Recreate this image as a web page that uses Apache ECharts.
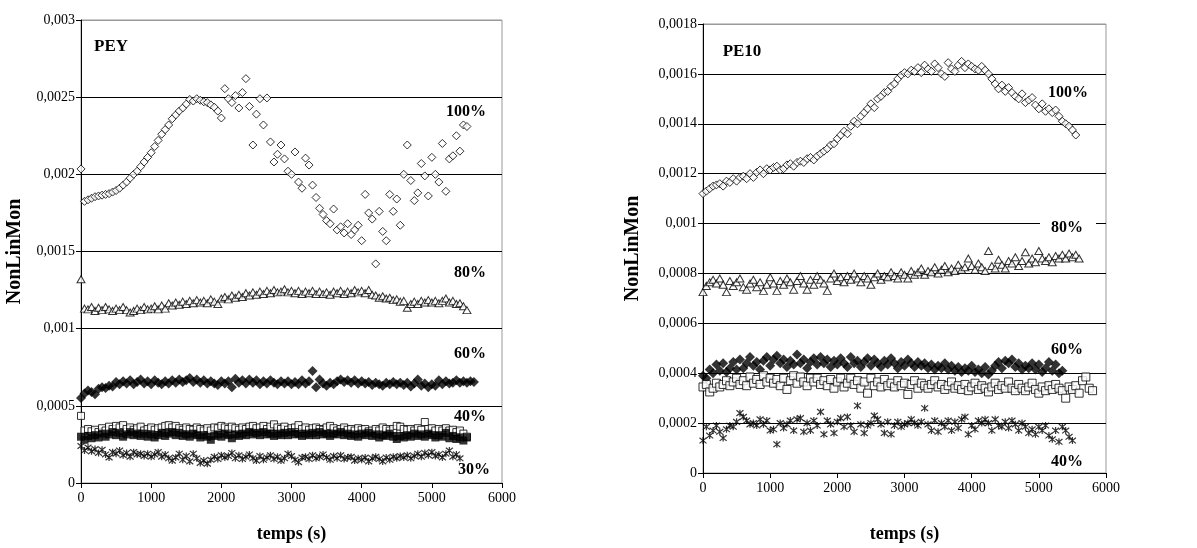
<!DOCTYPE html>
<html><head><meta charset="utf-8">
<script src="https://cdn.jsdelivr.net/npm/echarts@6/dist/echarts.min.js"></script>
<style>html,body{margin:0;padding:0;background:#fff}#c{width:1197px;height:548px}</style>
</head><body><div id="c"></div><script>
// time stamps (s)
const T = [0,50,100,150,200,250,300,350,400,450,500,550,600,650,700,750,800,850,900,950,
1000,1050,1100,1150,1200,1250,1300,1350,1400,1450,1500,1550,1600,1650,1700,1750,1800,1850,1900,1950,
2000,2050,2100,2150,2200,2250,2300,2350,2400,2450,2500,2550,2600,2650,2700,2750,2800,2850,2900,2950,
3000,3050,3100,3150,3200,3250,3300,3350,3400,3450,3500,3550,3600,3650,3700,3750,3800,3850,3900,3950,
4000,4050,4100,4150,4200,4250,4300,4350,4400,4450,4500,4550,4600,4650,4700,4750,4800,4850,4900,4950,
5000,5050,5100,5150,5200,5250,5300,5350,5400,5450,5500,5550,5600,5650,5700,5750,5800];
// values in units of 1e-5
const UNIT = 1e-5;
const PEY_100 = [203.5,182.5,183.5,184.5,185.5,186,186.5,187,187.5,188.5,
189.5,191,193,195,197.5,200,202,205,208,211,
214,218,222,226,229,232,236,238.5,241,243,
245.5,248.5,247.5,249,248,247,246.5,245,243.5,241,
236.5,255.5,249,246.5,251,243,253,262,244,219,
239,249,232,249.5,221,208,213,219,210,202,
200,214.5,195,191,210.5,206,193,185,178,174,
170,168,177.5,164,166,162,168,161,164,167,
157,187,175,171,142,176,163,157,187,176,
184,167,200,219,196,183,188,207,199,186,
211,200,195,220,189,210,212,225,215,232,
231];
const PEY_80 = [132,113,112.5,114,111.5,113.5,112,114,112.5,111.5,
113,112,114,112,110.5,111.5,113,112,114,112.5,
113,114.5,112.5,115,113,116.5,115,117,115.5,117.5,
116,118,116.5,118.5,117,118,116.5,119,117.5,116,
119.5,120.5,119,121.5,120,122,120.5,123,121.5,123.5,
122,124,122.5,124.5,123,125,123.5,124,125.5,123.5,
124.5,123,124.5,122.5,124,123,124.5,122.5,124,122.5,
123.5,122,124,123,124.5,122.5,124,123,125,123.5,
124.5,123,125,122,121.5,120,121,119.5,120,118.5,
119,117.5,118,113.5,116,117.5,116,118,117,118.5,
117,118,116.5,118,119.5,117,118,116,116.5,114.5,
112];
const PEY_60 = [55,58,60,59,57.5,61,62,61.5,63,62.5,
65.5,64,66,64.5,66.5,64,65.5,67,64.5,66,
64,66.5,65,64,66,64.5,66.5,65,67,65.5,
66.5,68,65.5,67,65,66.5,64.5,66,64.5,63.5,
66,64.5,66,62,67.5,65,66.5,64.5,67,65,
66.5,64,66,64.5,66.5,65,64,66,64.5,66,
64,65.5,64,66.5,64.5,66,72.5,62,67,64.5,
63,65,64,66,67,65.5,66.5,65,66.5,64.5,
66,64.5,65.5,63.5,65,64,63,65,64,65.5,
64,65,63.5,65,62.5,64.5,67,63,64.5,62,
64,63,66.5,64,66,64.5,65,66.5,65,66,
65,66,65.5];
const PEY_40_open = [43.5,34,35,33.5,34.5,33,35.5,34,36.5,35,
37,36,37.5,35,36,34.5,35.5,36.5,34,35,
36,34.5,35.5,36,37,37.5,36,37,35.5,34.5,
36,35,34.5,36,35,34,35.5,34,36,35.5,
37,36,35,36.5,35.5,34.5,36,35,36.5,37,
35.5,36,37,35,36.5,38,36,35,36.5,34.5,
35.5,36,37.5,35,36,34.5,35.5,36,35,34.5,
36,37,35.5,34,35,36,34.5,35,34,35.5,
34.5,35,33.5,34,35,34,36,35,34,35,
37,36.5,35,34.5,35,34,35.5,34.5,39.5,35,
35.5,34,35,34,35.5,34,34.5,33,34,32,
30];
const PEY_40_fill = [30,28,30.5,29,31,29.5,32,30,31.5,33,
31,32.5,30,31.5,33,31,32,30.5,32,30,
31.5,29.5,31,32.5,30.5,32,33,31,32.5,30.5,
31.5,30,32,31,29.5,31,30,28,30.5,31.5,
30,32,31,29,31.5,30.5,32,31,33,31.5,
32.5,31,33,31.5,32,30.5,32,31,32.5,31,
33,31.5,32,30.5,32,31,32.5,31,33,31.5,
32,30.5,32,31.5,33,31,32,30.5,31.5,30,
32,31,32.5,30.5,31.5,29.5,31,30.5,32,30,
28.5,30.5,29.5,31,30,32,30.5,31.5,30,32,
31,29.5,31,30,32.5,29,30.5,28.5,29.5,27.5,
29.5];
const PEY_30 = [24,21,23,20.5,22,19.5,21.5,18.5,16.5,20,
19,21,18,19.5,17,20,18.5,19,17.5,19,
17,18.5,20,17,18.5,16,14.5,16.5,19,15,
17.5,14,19,16,13,14.5,12.5,15,17,15.5,
18,16.5,17.5,19.5,16,18,15.5,17,18.5,16,
14.5,17.5,15,16.5,18,15.5,17,14.5,16,19,
17.5,15,13.5,16.5,17,15.5,18,16,17,18.5,
16.5,15,17.5,16,18,15.5,16.5,17,14.5,16,
15,16.5,14,16,17,15.5,14,16.5,15,17,
16,17.5,16.5,18,16,17.5,19,17,19.5,18,
20,17.5,18.5,16.5,19,21,17,18.5,16];
const PE10_100 = [112,113,114,115,115.5,116,115,117,116.5,118,
117,118.5,119,118,120,118.5,120.5,121.5,120,122,
121.5,122.5,123,121.5,122,123.5,124,123,124.5,125,
124.5,126,126.5,125.5,127,128,129,130,131.5,132,
134,135.5,137,136,139,141,140,143,144.5,146,
148,146.5,150,151,152.5,153,155,156,158,159.5,
160.5,160,161.5,161,162.5,160.5,163.5,162,161,164,
162.5,160,159,164.5,162,161,163.5,165,162.5,164,
163,162,161.5,163,161.5,160,158,156,154,155.5,
153,154.5,152.5,151,150,152,148.5,149.5,150.5,147.5,
146,148,145,146,144.5,145.5,143,141,140,139,
137.5,135.5];
const PE10_80 = [72.5,75,76.5,77.5,76,78,75.5,72.5,77,75,
76.5,78,74.5,73.5,76,77.5,74.5,76.5,73,75.5,
78.5,76,73,77,75.5,78,76.5,73.5,77,79,
76,73.5,77.5,75.5,79,77.5,76,73,78,80,
77,78.5,76.5,79,77.5,80,78,76.5,79,78,
75.5,78.5,80,77.5,79,78.5,80.5,79,78,80.5,
79.5,78,81,79.5,80.5,82,79.5,81,80.5,82.5,
80,81.5,83,80.5,82,81,83.5,81.5,82.5,86,
83,81.5,84,82.5,81,89,83,82,85.5,83.5,
82,85,84,86.5,83,85,88.5,84,86,84.5,
89,86,85,86.5,84.5,87,86,87.5,86,88,
86.5,87.5,86];
const PE10_60 = [39,38,41.5,40,43.5,41,44,40.5,42,44.5,
41.5,45.5,42,44,46.5,43,44.5,41.5,45,46.5,
43,45.5,47,44,45.5,42.5,45,43.5,47.5,44,
45.5,42,44.5,46,43.5,46.5,44,45.5,42.5,45,
43.5,46,44,42.5,46.5,44,45,42.5,44.5,46,
43,45.5,44,42.5,45,43.5,46,44,42,44.5,
43,45.5,44,42.5,44.5,43,44,42,43.5,41.5,
43,42,44,41.5,43,41,42.5,40.5,42,41,
43,40.5,41.5,40,42.5,39.5,41,43,44.5,42,
45,44,45.5,42.5,44,41.5,43,42,44,41.5,
43.5,40.5,42,44.5,41,43.5,40,41];
const PE10_sq = [34.5,35.5,32.5,34,36,34.5,35.5,37,35,36.5,
38,35.5,37,35,38.5,36,37.5,35.5,39,36.5,
38,36,37.5,35,38,33.5,37,39,36,38.5,
36.5,35,38,36.5,38,35.5,37,35,37.5,34,
36.5,38,34.5,36,38,35.5,37,34,36.5,32,
38,35,36.5,34.5,37.5,35,36,34.5,37,35,
36,31.5,35.5,37,34,36,35,34,35.5,37,
34.5,35.5,33.5,35,36.5,34,35,33.5,35.5,33,
34.5,36,33.5,35,34,32.5,34.5,36,33.5,35,
34,36.5,34,33,35.5,34,33,34.5,36,33.5,
32,34.5,33,35,33.5,35.5,34,33,30,34.5,
33.5,35,32,37,38.5,34,33];
const PE10_40 = [13,18.5,15,17,19,16.5,14,17.5,19,18.5,
20.5,24,22.5,21,19.5,20,19,21.5,19.5,21,
17,17.5,11.5,20,18,19.5,21,17,21.5,22,
16.5,20,17,21,19,24.5,15.5,21,19.5,16,
20.5,22,18.5,22.5,19,16.5,27,19.5,16,19,
20,23,21.5,19.5,16,20.5,15.5,19,20.5,18.5,
19.5,20,21.5,20,19,20.5,26,19.5,17,21,
16.5,20,18.5,21,17,20.5,18,21.5,22.5,15.5,
19,17.5,21,20,21.5,20,17,21.5,19,18.5,
20.5,18,21,19.5,17,20,18.5,16,17.5,15.5,
18.5,17,19,15,13.5,17,12.5,18.5,17,14.5,
13];
const X_TICKS = {min:0, max:6000, interval:1000};
const LEFT_Y = {min:0, max:0.003, interval:0.0005};
const RIGHT_Y = {min:0, max:0.0018, interval:0.0002};
const LEFT_LABELS = ['100%','80%','60%','40%','30%'];
const RIGHT_LABELS = ['100%','80%','60%','40%'];

const pts = arr => arr.map((v,i) => [T[i], v*UNIT]);
const FONT = '"Liberation Serif","Times New Roman",serif';
const ASTER = 'path://M1,1L9,9M9,1L1,9M5,0L5,10';
const OPEN = {color:'#fff', borderColor:'#000', borderWidth:1};
const FILL = {color:'#000'};
const STAR = {color:'none', borderColor:'#000', borderWidth:1.2};
function sc(name, arr, idx, symbol, size, style){
  return {type:'scatter', name, xAxisIndex:idx, yAxisIndex:idx, data:pts(arr),
    symbol, symbolSize:size, itemStyle:style, silent:true, animation:false};
}
const fmt = v => v===0 ? '0' : String(+v.toFixed(6)).replace('.', ',');
function xAx(gi, gap){
  return {type:'value', gridIndex:gi, ...X_TICKS, name:'temps (s)', nameLocation:'middle', nameGap:gap,
    nameTextStyle:{fontFamily:FONT, fontWeight:'bold', fontSize:18, color:'#000'},
    axisLine:{onZero:false, lineStyle:{color:'#000', width:1}},
    axisTick:{length:5, lineStyle:{color:'#000'}},
    axisLabel:{fontFamily:FONT, fontSize:14, color:'#000', margin:8, formatter: v => String(v)},
    splitLine:{show:false}};
}
function yAx(gi, cfg, gap, n){
  const cols = []; for (let i=0;i<n;i++) cols.push(i===n-1 ? '#999' : '#000');
  return {type:'value', gridIndex:gi, ...cfg, name:'NonLinMon', nameLocation:'middle', nameGap:gap, nameRotate:90,
    nameTextStyle:{fontFamily:FONT, fontWeight:'bold', fontSize:20, color:'#000'},
    axisLine:{show:true, onZero:false, lineStyle:{color:'#000', width:1}},
    axisTick:{show:true, length:5, lineStyle:{color:'#000'}},
    axisLabel:{fontFamily:FONT, fontSize:14, color:'#000', margin:6, formatter:fmt},
    splitLine:{show:true, lineStyle:{color:cols, width:1}}};
}
function txt(s, x, y, size, extra){
  return Object.assign({type:'text', x, y, z:100, silent:true,
    style:{text:s, align:'center', verticalAlign:'middle', font:'bold '+size+'px '+FONT, fill:'#000'}}, extra||{});
}
const chart = echarts.init(document.getElementById('c'), null, {renderer:'canvas'});
chart.setOption({
  animation:false,
  backgroundColor:'#fff',
  grid:[
    {left:81, top:20, width:421, height:466, show:true, borderColor:'#999', borderWidth:1},
    {left:703, top:24, width:403, height:452, show:true, borderColor:'#999', borderWidth:1}
  ],
  xAxis:[xAx(0, 42), xAx(1, 52)],
  yAxis:[yAx(0, LEFT_Y, 56, 7), yAx(1, RIGHT_Y, 60, 10)],
  series:[
    sc('PEY 100%', PEY_100, 0, 'diamond', 8, OPEN),
    sc('PEY 80%', PEY_80, 0, 'triangle', [8,7], OPEN),
    sc('PEY 60%', PEY_60, 0, 'diamond', 10, FILL),
    sc('PEY 40% open', PEY_40_open, 0, 'rect', 7, OPEN),
    sc('PEY 40% fill', PEY_40_fill, 0, 'rect', 8, FILL),
    sc('PEY 30%', PEY_30, 0, ASTER, 7, STAR),
    sc('PE10 100%', PE10_100, 1, 'diamond', 8, OPEN),
    sc('PE10 80%', PE10_80, 1, 'triangle', [8,7], OPEN),
    sc('PE10 60%', PE10_60, 1, 'diamond', 10, FILL),
    sc('PE10 sq', PE10_sq, 1, 'rect', 8, OPEN),
    sc('PE10 40%', PE10_40, 1, ASTER, 7, STAR)
  ],
  graphic:[
    txt('PEY', 111, 47, 17),
    txt('PE10', 742, 52, 17),
    txt(LEFT_LABELS[0], 466, 112, 16),
    txt(LEFT_LABELS[1], 470, 273, 16),
    txt(LEFT_LABELS[2], 470, 354, 16),
    txt(LEFT_LABELS[3], 470, 417, 16),
    txt(LEFT_LABELS[4], 474, 470, 16),
    txt(RIGHT_LABELS[0], 1068, 93, 16),
    {type:'rect', z:99, silent:true, shape:{x:1040, y:221, width:56, height:14}, style:{fill:'#fff'}},
    txt(RIGHT_LABELS[1], 1067, 228, 16),
    txt(RIGHT_LABELS[2], 1067, 350, 16),
    txt(RIGHT_LABELS[3], 1067, 462, 16)
  ]
});
</script></body></html>
